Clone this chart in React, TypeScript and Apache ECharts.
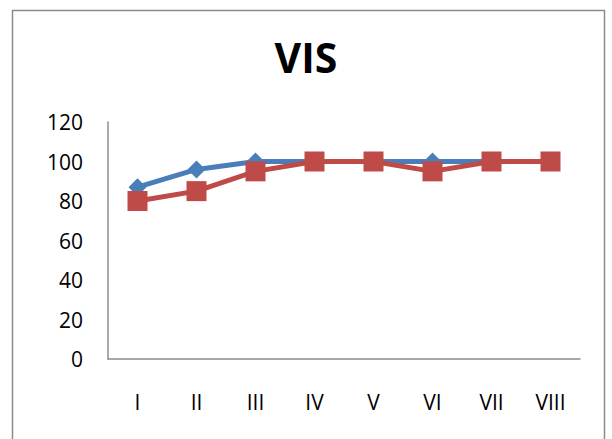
import React, { useEffect, useRef } from "react";
import * as echarts from "echarts";

const categories = ["I", "II", "III", "IV", "V", "VI", "VII", "VIII"];
const blueValues = [87, 96, 100, 100, 100, 100, 100, 100];
const redValues = [80, 85, 95, 100, 100, 95, 100, 100];
const yTicks = { min: 0, max: 120, interval: 20 };

export default function App() {
  const ref = useRef<HTMLDivElement>(null);
  useEffect(() => {
    const chart = echarts.init(ref.current!, null, { renderer: "svg" });
    const font = "'Open Sans', 'Liberation Sans', sans-serif";
    chart.setOption({
      animation: false,
      backgroundColor: "#fff",
      title: {
        text: "VIS",
        left: "center",
        top: 31,
        textStyle: { fontFamily: font, fontSize: 41, fontWeight: "bold", color: "#000" },
      },
      graphic: [
        {
          type: "rect",
          shape: { x: 12.5, y: 10.5, width: 592, height: 440 },
          style: { fill: "none", stroke: "#8c8c8c", lineWidth: 1.5 },
          silent: true,
        },
      ],
      grid: { left: 108, top: 122, right: 32, bottom: 80 },
      xAxis: {
        type: "category",
        data: categories,
        boundaryGap: true,
        axisLine: { lineStyle: { color: "#8c8c8c", width: 1.5 } },
        axisTick: { show: false },
        axisLabel: { fontFamily: font, fontSize: 21, color: "#000", margin: 32 },
      },
      yAxis: {
        type: "value",
        min: yTicks.min,
        max: yTicks.max,
        interval: yTicks.interval,
        axisLine: { show: true, lineStyle: { color: "#8c8c8c", width: 1.5 } },
        axisTick: { show: false },
        splitLine: { show: false },
        axisLabel: { fontFamily: font, fontSize: 21, color: "#000", margin: 25 },
      },
      series: [
        {
          type: "line",
          data: blueValues,
          symbol: "diamond",
          symbolSize: 18,
          lineStyle: { color: "#4A7EBB", width: 5 },
          itemStyle: { color: "#4A7EBB" },
        },
        {
          type: "line",
          data: redValues,
          symbol: "rect",
          symbolSize: 20,
          lineStyle: { color: "#BE4B48", width: 5 },
          itemStyle: { color: "#BE4B48" },
        },
      ],
    });
    return () => chart.dispose();
  }, []);
  return <div ref={ref} style={{ width: 612, height: 439, position: "absolute", left: 0, top: 0 }} />;
}
